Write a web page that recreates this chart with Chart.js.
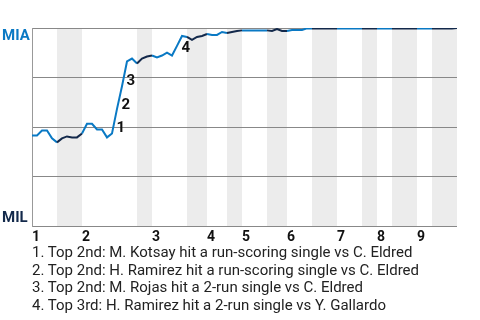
<!DOCTYPE html>
<html>
<head>
<meta charset="utf-8">
<script src="https://cdn.jsdelivr.net/npm/chart.js@4.4.0/dist/chart.umd.min.js"></script>
<style>
body{margin:0;background:#fff;font-family:Roboto,sans-serif}
#wrap{position:relative;width:480px;height:320px;overflow:hidden}
#box{position:absolute;left:0;top:0;width:480px;height:249px}
#notes{position:absolute;left:32px;top:244px;margin:0;padding:0;list-style:none;font-size:15px;line-height:17.7px;color:#222;white-space:nowrap}
</style>
</head>
<body>
<div id="wrap">
  <div id="box"><canvas id="wp"></canvas></div>
  <ul id="notes"></ul>
</div>
<script>
// Win probability for MIA (100 = MIA, 0 = MIL), one value per plate appearance
const winProb = [
  45.8, 45.8, 48.3, 48.3, 44.3, 42.3, 44.3, 45.3, 44.8, 44.8,
  46.8, 51.7, 51.7, 48.8, 48.8, 44.8, 46.8, 59.2, 70.6, 83.1,
  84.6, 82.1, 84.6, 85.6, 86.1, 85.1, 86.1, 87.6, 86.1, 91.0,
  96.0, 95.5, 94.0, 95.5, 96.0, 97.0, 96.5, 96.5, 98.0, 97.5,
  98.0, 98.5, 98.8, 98.8, 98.8, 98.8, 98.8, 98.8, 98.5, 99.5,
  98.5, 98.5, 99.0, 99.0, 99.0, 99.8, 99.8, 99.8, 99.8, 99.8,
  99.8, 99.8, 99.8, 99.8, 99.8, 99.8, 99.8, 99.8, 99.8, 99.8,
  99.8, 99.8, 99.8, 99.8, 99.8, 99.8, 99.8, 99.8, 99.8, 99.8,
  99.8, 99.8, 99.8, 99.8, 99.8, 100
];
// plate appearance index where each inning starts (top half)
const inningStart = [0, 10, 24, 35, 42, 51, 61, 69, 77];
const inningLabels = ['1', '2', '3', '4', '5', '6', '7', '8', '9'];
// bottom halves (MIL batting), [from, to]
const bottomHalves = [[5, 10], [21, 24], [31, 35], [39, 42], [47, 51], [56, 61], [66, 69], [72, 77], [80, 85]];
// key plays: index of the plate appearance that ends the play
const keyPlayIndex = [17, 18, 19, 30];
const keyPlayText = [
  'Top 2nd: M. Kotsay hit a run-scoring single vs C. Eldred',
  'Top 2nd: H. Ramirez hit a run-scoring single vs C. Eldred',
  'Top 2nd: M. Rojas hit a 2-run single vs C. Eldred',
  'Top 3rd: H. Ramirez hit a 2-run single vs Y. Gallardo'
];
const teamTop = 'MIA';
const teamBottom = 'MIL';

const MIA_BLUE = '#0a79c4';
const MIL_NAVY = '#13294b';

const notes = document.getElementById('notes');
keyPlayText.forEach((t, i) => {
  const li = document.createElement('li');
  li.textContent = (i + 1) + '. ' + t;
  notes.appendChild(li);
});

function isBottom(i0, i1) {
  return bottomHalves.some(b => i0 >= b[0] && i1 <= b[1]);
}

// grey bands for the bottom halves
const bandPlugin = {
  id: 'bands',
  beforeDraw(chart) {
    const {ctx, chartArea, scales} = chart;
    ctx.save();
    ctx.fillStyle = '#ececec';
    bottomHalves.forEach(b => {
      const x0 = scales.x.getPixelForValue(b[0]);
      const x1 = scales.x.getPixelForValue(b[1]);
      ctx.fillRect(x0, chartArea.top, x1 - x0, chartArea.bottom - chartArea.top);
    });
    ctx.restore();
  }
};

// team names at top and bottom of the y axis
const teamPlugin = {
  id: 'teams',
  afterDraw(chart) {
    const {ctx, scales} = chart;
    ctx.save();
    ctx.font = 'bold 15px Roboto';
    ctx.textAlign = 'left';
    ctx.textBaseline = 'alphabetic';
    ctx.fillStyle = MIA_BLUE;
    ctx.fillText(teamTop, 2, scales.y.getPixelForValue(100) + 12);
    ctx.fillStyle = MIL_NAVY;
    ctx.fillText(teamBottom, 2, scales.y.getPixelForValue(0) - 4);
    ctx.restore();
  }
};

// numbered markers next to the key plays
const playPlugin = {
  id: 'plays',
  afterDatasetsDraw(chart) {
    const {ctx, scales} = chart;
    ctx.save();
    ctx.font = 'bold 15px Roboto';
    ctx.fillStyle = '#111';
    ctx.textAlign = 'left';
    ctx.textBaseline = 'top';
    keyPlayIndex.forEach((k, i) => {
      const mx = (scales.x.getPixelForValue(k - 1) + scales.x.getPixelForValue(k)) / 2;
      const my = (scales.y.getPixelForValue(winProb[k - 1]) + scales.y.getPixelForValue(winProb[k])) / 2;
      ctx.fillText(String(i + 1), mx + 2, my);
    });
    ctx.restore();
  }
};

new Chart(document.getElementById('wp'), {
  type: 'line',
  data: {
    labels: winProb.map((_, i) => i),
    datasets: [{
      data: winProb.map((v, i) => ({x: i, y: v})),
      borderWidth: 2,
      pointRadius: 0,
      tension: 0,
      borderColor: MIA_BLUE,
      segment: {
        borderColor: c => isBottom(c.p0DataIndex, c.p1DataIndex) ? MIL_NAVY : MIA_BLUE
      }
    }]
  },
  options: {
    responsive: true,
    maintainAspectRatio: false,
    animation: false,
    layout: {padding: {left: 32, right: 23, top: 28, bottom: 0}},
    plugins: {legend: {display: false}, tooltip: {enabled: false}},
    scales: {
      x: {
        type: 'linear',
        min: 0,
        max: winProb.length - 1,
        grid: {display: false, drawTicks: false},
        border: {display: false},
        afterBuildTicks: axis => { axis.ticks = inningStart.map(v => ({value: v})); },
        ticks: {
          align: 'start',
          padding: 3,
          color: '#111',
          font: {family: 'Roboto', size: 14, weight: 'bold'},
          callback: (v, i) => inningLabels[i]
        }
      },
      y: {
        min: 0,
        max: 100,
        grid: {color: '#888', lineWidth: 1, drawTicks: false},
        border: {display: true, color: '#999'},
        ticks: {display: false, stepSize: 25}
      }
    }
  },
  plugins: [bandPlugin, teamPlugin, playPlugin]
});
</script>
</body>
</html>
